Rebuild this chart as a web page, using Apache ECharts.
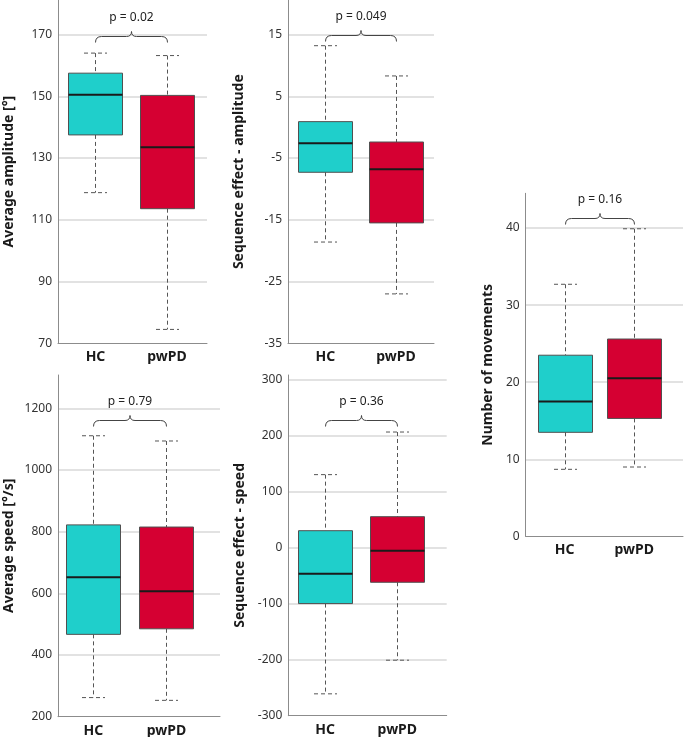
<!DOCTYPE html>
<html>
<head>
<meta charset="utf-8">
<script src="https://cdn.jsdelivr.net/npm/echarts@6/dist/echarts.min.js"></script>
<style>
html,body{margin:0;padding:0;background:#fff;}
#chart{width:685px;height:737px;}
</style>
</head>
<body>
<div id="chart"></div>
<script>
// ---- data ----
const categories = ['HC', 'pwPD'];
// each: [lower whisker, Q1, median, Q3, upper whisker]
const ampHC = [118.8, 137.5, 150.5, 157.5, 164.0];
const ampPD = [74.5, 113.6, 133.5, 150.3, 163.2];
const seqAmpHC = [-18.6, -7.3, -2.6, 0.9, 13.2];
const seqAmpPD = [-27.0, -15.5, -6.8, -2.4, 8.3];
const speedHC = [262, 467, 652, 822, 1111];
const speedPD = [253, 485, 607, 815, 1094];
const seqSpeedHC = [-261, -100, -47, 30, 130];
const seqSpeedPD = [-201, -62, -6, 55, 206];
const movHC = [8.7, 13.5, 17.5, 23.5, 32.7];
const movPD = [9.0, 15.3, 20.5, 25.6, 39.9];

const pLabels = ['p = 0.02', 'p = 0.049', 'p = 0.79', 'p = 0.36', 'p = 0.16'];
const braceLevels = [169.6, 14.9, 1161, 228, 41.3];

const yTitles = ['Average amplitude [°]', 'Sequence effect - amplitude', 'Average speed [°/s]', 'Sequence effect - speed', 'Number of movements'];
const yMins = [70, -35, 200, -300, 0];
const yMaxs = [181.2, 20.6, 1308, 307.7, 44.5];
const yIntervals = [20, 10, 200, 100, 10];

const boxColors = ['#1FCFCB', '#D50032'];

// ---- layout (pixels) ----
const panels = [
  {left: 58, top: 0, width: 149, height: 343.3, xmin: -0.524, xmax: 1.559, gap: 42, groups: [ampHC, ampPD]},
  {left: 288, top: 0, width: 146, height: 343.3, xmin: -0.528, xmax: 1.537, gap: 42, groups: [seqAmpHC, seqAmpPD]},
  {left: 58, top: 375, width: 162, height: 341.7, xmin: -0.482, xmax: 1.731, gap: 42, groups: [speedHC, speedPD]},
  {left: 288.3, top: 375, width: 158.4, height: 340.7, xmin: -0.512, xmax: 1.685, gap: 41, groups: [seqSpeedHC, seqSpeedPD]},
  {left: 525.7, top: 193.3, width: 157.3, height: 343.1, xmin: -0.557, xmax: 1.70, gap: 31, groups: [movHC, movPD]}
];

const FONT = '"Noto Sans", "Open Sans", sans-serif';
const WHISKER = '#555555';

function renderBox(params, api) {
  const x = api.value(0);
  const lo = api.coord([x, api.value(1)]);
  const q1 = api.coord([x, api.value(2)]);
  const md = api.coord([x, api.value(3)]);
  const q3 = api.coord([x, api.value(4)]);
  const hi = api.coord([x, api.value(5)]);
  const cx = Math.round(lo[0]) + 0.5;
  const hw = 27, cw = 11.5;
  const dash = {stroke: WHISKER, lineWidth: 1, lineDash: [4, 3]};
  return {
    type: 'group',
    children: [
      {type: 'line', shape: {x1: cx, y1: hi[1], x2: cx, y2: q3[1]}, style: dash},
      {type: 'line', shape: {x1: cx, y1: q1[1], x2: cx, y2: lo[1]}, style: dash},
      {type: 'line', shape: {x1: cx - cw, y1: hi[1], x2: cx + cw, y2: hi[1]}, style: dash},
      {type: 'line', shape: {x1: cx - cw, y1: lo[1], x2: cx + cw, y2: lo[1]}, style: dash},
      {type: 'rect', shape: {x: cx - hw, y: q3[1], width: hw * 2, height: q1[1] - q3[1]},
        style: {fill: boxColors[params.dataIndex], stroke: '#505050', lineWidth: 1}},
      {type: 'line', shape: {x1: cx - hw, y1: md[1], x2: cx + hw, y2: md[1]},
        style: {stroke: '#1a1a1a', lineWidth: 2}}
    ]
  };
}

function renderBrace(idx) {
  return function (params, api) {
    const a = api.coord([api.value(0), api.value(2)]);
    const b = api.coord([api.value(1), api.value(2)]);
    const y = Math.round(a[1]) + 0.5;
    const x0 = Math.round(a[0]) + 0.5, x1 = Math.round(b[0]) + 0.5, xm = (x0 + x1) / 2;
    const d = 'M' + x0 + ',' + (y + 6) +
      ' Q' + x0 + ',' + y + ' ' + (x0 + 6) + ',' + y +
      ' L' + (xm - 5) + ',' + y +
      ' Q' + xm + ',' + y + ' ' + xm + ',' + (y - 5) +
      ' Q' + xm + ',' + y + ' ' + (xm + 5) + ',' + y +
      ' L' + (x1 - 6) + ',' + y +
      ' Q' + x1 + ',' + y + ' ' + x1 + ',' + (y + 6);
    return {
      type: 'group',
      children: [
        {type: 'path', shape: {pathData: d}, style: {stroke: '#444', lineWidth: 1, fill: null}},
        {type: 'text', style: {text: pLabels[idx], x: xm, y: y - 19, align: 'center', verticalAlign: 'middle',
          textAlign: 'center', textVerticalAlign: 'middle', font: '12px ' + FONT, fill: '#222'}}
      ]
    };
  };
}

const grid = [], xAxis = [], yAxis = [], series = [];
panels.forEach(function (p, i) {
  grid.push({left: p.left, top: p.top, width: p.width, height: p.height, containLabel: false, outerBoundsMode: 'none'});
  xAxis.push({
    type: 'value', gridIndex: i, min: p.xmin, max: p.xmax,
    axisLine: {show: true, onZero: false, lineStyle: {color: '#8c8c8c', width: 1}},
    axisTick: {show: false},
    splitLine: {show: false},
    axisLabel: {
      customValues: [0, 1], margin: 7,
      formatter: function (v) { return categories[Math.round(v)]; },
      fontFamily: FONT, fontSize: 14, fontWeight: 'bold', color: '#1a1a1a'
    }
  });
  yAxis.push({
    type: 'value', gridIndex: i, min: yMins[i], max: yMaxs[i], interval: yIntervals[i],
    name: yTitles[i], nameLocation: 'middle', nameGap: p.gap,
    nameTextStyle: {fontFamily: FONT, fontSize: 14, fontWeight: 'bold', color: '#1a1a1a'},
    axisLine: {show: true, onZero: false, lineStyle: {color: '#8c8c8c', width: 1}},
    axisTick: {show: false},
    axisLabel: {showMaxLabel: false, margin: 6, fontFamily: FONT, fontSize: 12, color: '#333',
      formatter: function (v) { return String(v); }},
    splitLine: {show: true, showMaxLine: false, showMinLine: false, lineStyle: {color: '#d9d9d9', width: 1.5}}
  });
  series.push({
    type: 'custom', xAxisIndex: i, yAxisIndex: i, renderItem: renderBox, clip: false,
    data: p.groups.map(function (g, k) { return [k].concat(g); })
  });
  series.push({
    type: 'custom', xAxisIndex: i, yAxisIndex: i, renderItem: renderBrace(i), clip: false,
    data: [[0, 1, braceLevels[i]]]
  });
});

const chart = echarts.init(document.getElementById('chart'), null, {renderer: 'canvas'});
chart.setOption({
  animation: false,
  backgroundColor: '#ffffff',
  grid: grid, xAxis: xAxis, yAxis: yAxis, series: series
});
</script>
</body>
</html>
